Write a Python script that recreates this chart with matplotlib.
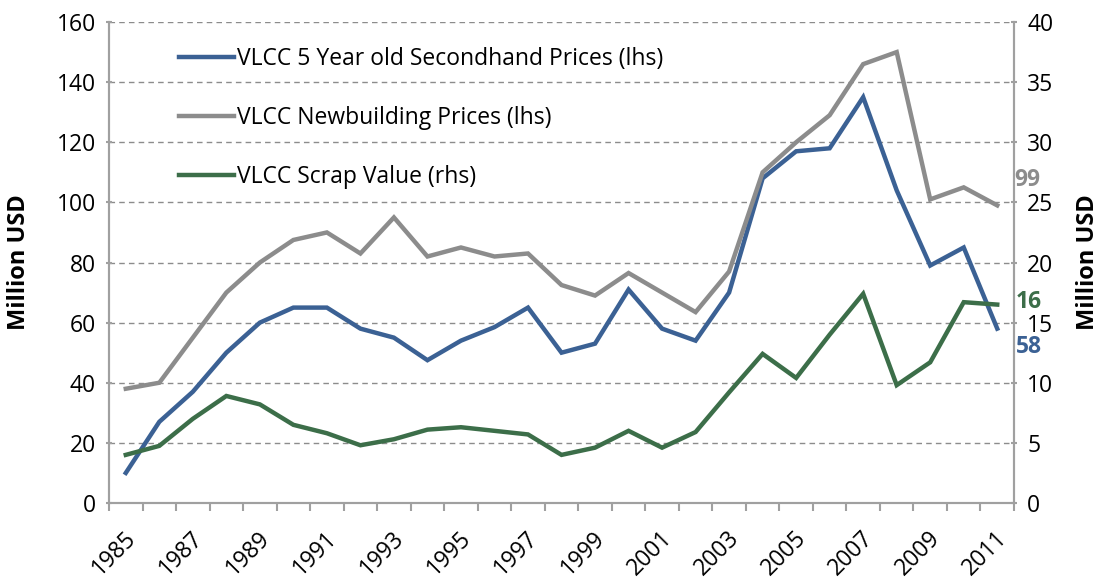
import numpy as np
import matplotlib
matplotlib.use("Agg")
from matplotlib import pyplot as plt
from matplotlib.transforms import ScaledTranslation

plt.rcParams['font.family'] = ['Open Sans', 'DejaVu Sans']

# data (values are mid-year points)
years = np.arange(1985, 2012) + 0.5
secondhand = [10, 27, 37, 50, 60, 65, 65, 58, 55, 47.5, 54, 58.5, 65, 50, 53, 71,
              58, 54, 70, 108, 117, 118, 135, 104, 79, 85, 58]
newbuilding = [38, 40, 55, 70, 80, 87.5, 90, 83, 95, 82, 85, 82, 83, 72.5, 69, 76.5,
               70, 63.5, 77, 110, 120, 129, 146, 150, 101, 105, 99]
scrap = [4.0, 4.75, 7.0, 8.9, 8.2, 6.5, 5.8, 4.8, 5.3, 6.1, 6.3, 6.0, 5.7, 4.0, 4.6, 6.0,
         4.6, 5.9, 9.2, 12.4, 10.4, 14.0, 17.4, 9.8, 11.7, 16.7, 16.5]
label_years = list(range(1985, 2012, 2))

c_blue = '#3b6194'
c_grey = '#8c8c8c'
c_green = '#3c6e49'
c_axis = '#a0a0a0'
fs = 16.5

fig = plt.figure(figsize=(10.98, 5.8), dpi=100)
ax = fig.add_axes([0.0993, 0.1328, 0.8242, 0.8292])
ax2 = ax.twinx()

l1, = ax.plot(years, secondhand, color=c_blue, lw=3.2, solid_joinstyle='miter')
l2, = ax.plot(years, newbuilding, color=c_grey, lw=3.2, solid_joinstyle='miter')
l3, = ax2.plot(years, scrap, color=c_green, lw=3.2, solid_joinstyle='miter')

ax.set_xlim(1985, 2012)
ax.set_ylim(0, 160)
ax2.set_ylim(0, 40)
ax.set_yticks(range(0, 161, 20))
ax2.set_yticks(range(0, 41, 5))

# gridlines
for v in range(20, 161, 20):
    ax.axhline(v, color='#8c8c8c', lw=1, ls=(0, (4, 3)), zorder=0)

# x ticks: marks every year, labels every other year
ax.set_xticks(range(1985, 2013))
ax.set_xticklabels([])
ax.set_xticks([y + 0.5 for y in label_years], minor=True)
ax.set_xticklabels([str(y) for y in label_years], minor=True, rotation=45,
                   ha='right', va='top', rotation_mode='anchor', fontsize=fs)
ax.tick_params(axis='x', which='major', length=6, color=c_axis, width=1.5, direction='out')
ax.tick_params(axis='x', which='minor', length=0, pad=17)
off = ScaledTranslation(-2 / 100, 0, fig.dpi_scale_trans)
for lab in ax.get_xticklabels(minor=True):
    lab.set_transform(lab.get_transform() + off)

ax.tick_params(axis='y', length=5, color=c_axis, width=1.5, direction='inout', labelsize=fs, pad=7)
ax2.tick_params(axis='y', length=5, color=c_axis, width=1.5, direction='inout', labelsize=fs, pad=7)

for a in (ax, ax2):
    a.spines['top'].set_visible(False)
    for s in ('left', 'right', 'bottom'):
        a.spines[s].set_color(c_axis)
        a.spines[s].set_linewidth(1.5)

ax.set_ylabel('Million USD', fontsize=17, fontweight='bold')
ax2.set_ylabel('Million USD', fontsize=17, fontweight='bold')
ax.yaxis.set_label_coords(-0.086, 0.5)
ax2.yaxis.set_label_coords(1.068, 0.5)

# end labels
ax.text(2012.0, 107.5, '99', color=c_grey, fontsize=fs, fontweight='bold',
        ha='left', va='center', clip_on=False)
ax.text(2012.06, 67, '16', color=c_green, fontsize=fs, fontweight='bold',
        ha='left', va='center', clip_on=False)
ax.text(2012.06, 52, '58', color=c_blue, fontsize=fs, fontweight='bold',
        ha='left', va='center', clip_on=False)

leg = ax2.legend([l1, l2, l3],
                 ['VLCC 5 Year old Secondhand Prices (lhs)',
                  'VLCC Newbuilding Prices (lhs)',
                  'VLCC Scrap Value (rhs)'],
                 loc='upper left', bbox_to_anchor=(0.055, 0.99), frameon=False,
                 fontsize=fs, handlelength=2.36, handletextpad=0.14, labelspacing=1.52)

fig.savefig('out.png', dpi=100)
